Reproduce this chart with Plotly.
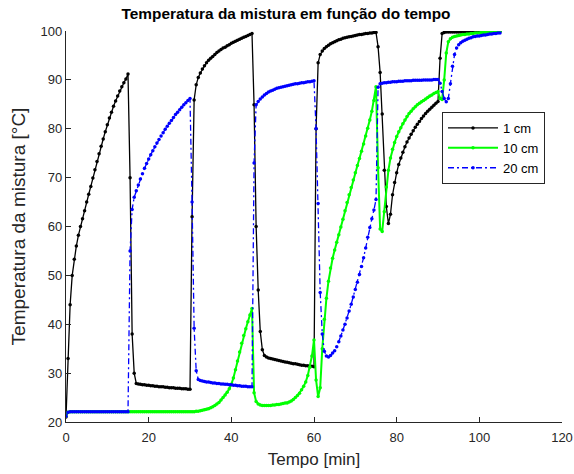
import plotly.graph_objects as go

# Sample times [min]
tempo = [
    0, 0.5, 1, 1.5, 2, 2.5, 3, 3.5, 4, 4.5,
    5, 5.5, 6, 6.5, 7, 7.5, 8, 8.5, 9, 9.5,
    10, 10.5, 11, 11.5, 12, 12.5, 13, 13.5, 14, 14.5,
    15, 15.5, 16, 16.5, 17, 17.5, 18, 18.5, 19, 19.5,
    20, 20.5, 21, 21.5, 22, 22.5, 23, 23.5, 24, 24.5,
    25, 25.5, 26, 26.5, 27, 27.5, 28, 28.5, 29, 29.5,
    30, 30.5, 31, 31.5, 32, 32.5, 33, 33.5, 34, 34.5,
    35, 35.5, 36, 36.5, 37, 37.5, 38, 38.5, 39, 39.5,
    40, 40.5, 41, 41.5, 42, 42.5, 43, 43.5, 44, 44.5,
    45, 45.5, 46, 46.5, 47, 47.5, 48, 48.5, 49, 49.5,
    50, 50.5, 51, 51.5, 52, 52.5, 53, 53.5, 54, 54.5,
    55, 55.5, 56, 56.5, 57, 57.5, 58, 58.5, 59, 59.5,
    60, 60.5, 61, 61.5, 62, 62.5, 63, 63.5, 64, 64.5,
    65, 65.5, 66, 66.5, 67, 67.5, 68, 68.5, 69, 69.5,
    70, 70.5, 71, 71.5, 72, 72.5, 73, 73.5, 74, 74.5,
    75, 75.5, 76, 76.5, 77, 77.5, 78, 78.5, 79, 79.5,
    80, 80.5, 81, 81.5, 82, 82.5, 83, 83.5, 84, 84.5,
    85, 85.5, 86, 86.5, 87, 87.5, 88, 88.5, 89, 89.5,
    90, 90.5, 91, 91.5, 92, 92.5, 93, 93.5, 94, 94.5,
    95, 95.5, 96, 96.5, 97, 97.5, 98, 98.5, 99, 99.5,
    100, 100.5, 101, 101.5, 102, 102.5, 103, 103.5, 104, 104.5,
    105,
]

# Temperatura da mistura [°C] - 1 cm
temp_1cm = [
    21.0, 33.0, 44.0, 50.0, 53.3, 56.0, 58.2, 60.0, 61.6, 63.2,
    65.0, 66.6, 68.2, 69.9, 71.6, 73.3, 74.9, 76.4, 77.9, 79.4,
    80.8, 82.2, 83.4, 84.6, 85.7, 86.7, 87.7, 88.6, 89.4, 90.2,
    91.2, 70.0, 38.0, 30.0, 27.9, 27.8, 27.7, 27.6, 27.6, 27.5,
    27.5, 27.4, 27.4, 27.3, 27.3, 27.2, 27.2, 27.2, 27.1, 27.1,
    27.0, 27.0, 27.0, 26.9, 26.9, 26.9, 26.8, 26.8, 26.8, 26.7,
    26.7, 62.0, 85.9, 89.0, 90.5, 91.4, 92.2, 92.9, 93.5, 94.0,
    94.4, 94.8, 95.2, 95.6, 95.9, 96.2, 96.5, 96.7, 97.0, 97.2,
    97.5, 97.7, 97.9, 98.1, 98.3, 98.5, 98.7, 98.9, 99.1, 99.3,
    99.5, 84.9, 60.0, 47.0, 38.5, 34.8, 33.6, 33.3, 33.1, 33.0,
    32.9, 32.8, 32.7, 32.6, 32.5, 32.4, 32.3, 32.2, 32.1, 32.0,
    31.9, 31.9, 31.8, 31.7, 31.6, 31.6, 31.5, 31.5, 31.4, 31.4,
    31.3, 80.0, 93.5, 95.2, 95.9, 96.4, 96.8, 97.1, 97.4, 97.6,
    97.8, 98.0, 98.2, 98.3, 98.5, 98.6, 98.7, 98.8, 98.9, 99.0,
    99.1, 99.2, 99.3, 99.3, 99.4, 99.5, 99.5, 99.6, 99.6, 99.7,
    99.7, 96.8, 91.5, 83.0, 71.5, 64.1, 60.6, 62.5, 66.5, 69.0,
    71.0, 72.7, 74.0, 75.2, 76.3, 77.3, 78.1, 78.9, 79.6, 80.3,
    80.9, 81.5, 82.1, 82.6, 83.1, 83.6, 84.0, 84.4, 84.8, 85.2,
    85.6, 94.4, 99.5, 99.7, 99.8, 99.8, 99.8, 99.8, 99.8, 99.8,
    99.8, 99.8, 99.8, 99.8, 99.8, 99.8, 99.9, 99.9, 99.9, 99.9,
    99.9, 99.9, 99.9, 99.9, 99.9, 99.9, 99.9, 99.9, 99.9, 99.9,
    99.9,
]

# Temperatura da mistura [°C] - 10 cm
temp_10cm = [
    21.2, 22.0, 22.1, 22.1, 22.1, 22.1, 22.1, 22.1, 22.1, 22.1,
    22.1, 22.1, 22.1, 22.1, 22.1, 22.1, 22.1, 22.1, 22.1, 22.1,
    22.1, 22.1, 22.1, 22.1, 22.1, 22.1, 22.1, 22.1, 22.1, 22.1,
    22.1, 22.1, 22.1, 22.1, 22.1, 22.1, 22.1, 22.1, 22.1, 22.1,
    22.1, 22.1, 22.1, 22.1, 22.1, 22.1, 22.1, 22.1, 22.1, 22.1,
    22.1, 22.1, 22.1, 22.1, 22.1, 22.1, 22.1, 22.1, 22.1, 22.1,
    22.1, 22.1, 22.1, 22.2, 22.2, 22.3, 22.4, 22.5, 22.6, 22.7,
    22.9, 23.1, 23.4, 23.7, 24.0, 24.5, 25.0, 25.5, 26.1, 26.8,
    27.7, 29.0, 30.7, 32.5, 34.3, 36.1, 37.7, 39.1, 40.5, 41.9,
    43.2, 26.0, 24.2, 23.7, 23.5, 23.4, 23.4, 23.4, 23.4, 23.4,
    23.5, 23.5, 23.6, 23.6, 23.7, 23.8, 23.9, 23.9, 24.1, 24.3,
    24.6, 25.0, 25.4, 25.9, 26.6, 27.3, 28.2, 29.5, 31.2, 33.5,
    36.8, 28.6, 25.2, 27.0, 35.0, 41.0, 45.3, 48.8, 51.5, 53.5,
    55.2, 56.8, 58.3, 59.9, 61.5, 63.2, 64.9, 66.5, 68.0, 69.5,
    71.0, 72.5, 73.9, 75.4, 76.9, 78.5, 80.1, 81.8, 83.6, 85.8,
    88.6, 72.0, 59.5, 59.0, 63.0, 68.1, 71.5, 74.0, 75.8, 77.2,
    78.4, 79.4, 80.2, 81.0, 81.8, 82.5, 83.1, 83.6, 84.1, 84.5,
    84.9, 85.2, 85.5, 85.8, 86.1, 86.4, 86.7, 86.9, 87.2, 87.4,
    87.6, 86.2, 86.0, 90.0, 95.5, 97.8, 98.4, 98.7, 98.9, 99.0,
    99.1, 99.2, 99.3, 99.3, 99.4, 99.4, 99.5, 99.5, 99.6, 99.6,
    99.6, 99.7, 99.7, 99.7, 99.8, 99.8, 99.8, 99.8, 99.8, 99.9,
    99.9,
]

# Temperatura da mistura [°C] - 20 cm
temp_20cm = [
    21.2, 22.0, 22.1, 22.1, 22.1, 22.1, 22.1, 22.1, 22.1, 22.1,
    22.1, 22.1, 22.1, 22.1, 22.1, 22.1, 22.1, 22.1, 22.1, 22.1,
    22.1, 22.1, 22.1, 22.1, 22.1, 22.1, 22.1, 22.1, 22.1, 22.1,
    22.1, 55.0, 63.5, 66.0, 67.3, 68.5, 69.7, 70.8, 71.9, 72.9,
    73.8, 74.7, 75.5, 76.3, 77.1, 77.8, 78.5, 79.2, 79.9, 80.5,
    81.1, 81.7, 82.3, 82.9, 83.4, 83.9, 84.4, 84.9, 85.3, 85.8,
    86.2, 65.0, 39.2, 30.5, 28.7, 28.5, 28.4, 28.3, 28.2, 28.2,
    28.1, 28.0, 28.0, 27.9, 27.9, 27.8, 27.8, 27.7, 27.7, 27.6,
    27.6, 27.5, 27.5, 27.4, 27.4, 27.3, 27.3, 27.3, 27.2, 27.2,
    27.2, 73.0, 84.9, 85.6, 86.1, 86.5, 86.9, 87.2, 87.5, 87.7,
    87.9, 88.1, 88.3, 88.4, 88.5, 88.6, 88.7, 88.8, 88.9, 89.0,
    89.1, 89.2, 89.2, 89.3, 89.4, 89.4, 89.5, 89.6, 89.6, 89.7,
    89.8, 80.0, 64.7, 46.5, 38.0, 34.5, 33.5, 33.3, 33.6, 34.1,
    34.6, 35.4, 36.4, 37.6, 38.8, 40.0, 41.3, 42.7, 44.1, 45.6,
    47.1, 48.6, 50.2, 51.8, 53.6, 55.6, 57.8, 59.8, 61.6, 63.4,
    65.5, 88.5, 89.2, 89.3, 89.4, 89.4, 89.5, 89.5, 89.6, 89.6,
    89.6, 89.7, 89.7, 89.7, 89.8, 89.8, 89.8, 89.8, 89.9, 89.9,
    89.9, 89.9, 89.9, 90.0, 90.0, 90.0, 90.0, 90.0, 90.1, 90.1,
    90.1, 89.3, 87.6, 86.2, 85.5, 86.2, 89.2, 92.8, 95.2, 96.5,
    97.2, 97.6, 97.9, 98.1, 98.3, 98.5, 98.6, 98.8, 98.9, 99.0,
    99.0, 99.1, 99.2, 99.2, 99.3, 99.4, 99.4, 99.5, 99.5, 99.6,
    99.6,
]

series_names = ["1 cm", "10 cm", "20 cm"]
x_ticks = [0, 20, 40, 60, 80, 100, 120]
y_ticks = [20, 30, 40, 50, 60, 70, 80, 90, 100]

FONT = "Liberation Sans, Arial, Helvetica, sans-serif"
AX = "#262626"

fig = go.Figure()
fig.add_trace(go.Scatter(
    x=tempo, y=temp_1cm, name=series_names[0], mode="lines+markers",
    line=dict(color="#000000", width=1.3),
    marker=dict(color="#000000", size=3.5),
))
fig.add_trace(go.Scatter(
    x=tempo, y=temp_10cm, name=series_names[1], mode="lines+markers",
    line=dict(color="#00ff00", width=2),
    marker=dict(color="#00ff00", size=3.5),
))
fig.add_trace(go.Scatter(
    x=tempo, y=temp_20cm, name=series_names[2], mode="lines+markers",
    line=dict(color="#0000ff", width=1.3, dash="6px,3px,2px,3px"),
    marker=dict(color="#0000ff", size=3.5),
))

fig.update_layout(
    width=574, height=474,
    margin=dict(l=66, r=12, t=31, b=52, pad=0),
    paper_bgcolor="white", plot_bgcolor="white",
    font=dict(family=FONT, size=13, color=AX),
    title=dict(
        text="<b>Temperatura da mistura em função do tempo</b>",
        x=286 / 574, xref="container", xanchor="center",
        y=1 - 14 / 474, yref="container", yanchor="middle",
        font=dict(family=FONT, size=15.4, color="#000000"),
    ),
    showlegend=True,
    legend=dict(
        x=(442 - 66) / 496, y=1 - (112 - 31) / 391, xanchor="left", yanchor="top",
        bgcolor="white", bordercolor=AX, borderwidth=1,
        font=dict(family=FONT, size=13, color="#000000"),
        tracegroupgap=0, itemwidth=50,
    ),
)
fig.update_xaxes(
    range=[0, 120], tickvals=x_ticks, ticktext=[str(v) for v in x_ticks],
    showgrid=False, zeroline=False, showline=True, linecolor=AX, linewidth=1.3,
    ticks="inside", ticklen=5, tickwidth=1.3, tickcolor=AX,
    tickfont=dict(family=FONT, size=13, color=AX), ticklabelstandoff=3,
    title=dict(text="Tempo [min]", font=dict(family=FONT, size=17, color=AX), standoff=9),
    mirror=False, automargin=False,
)
fig.update_yaxes(
    range=[20, 100], tickvals=y_ticks, ticktext=[str(v) for v in y_ticks],
    showgrid=False, zeroline=False, showline=True, linecolor=AX, linewidth=1.3,
    ticks="inside", ticklen=5, tickwidth=1.3, tickcolor=AX,
    tickfont=dict(family=FONT, size=13, color=AX),
    title=dict(text="Temperatura da mistura [°C]", font=dict(family=FONT, size=19, color=AX), standoff=9),
    mirror=False, automargin=False,
)

fig.write_html("out.html")
